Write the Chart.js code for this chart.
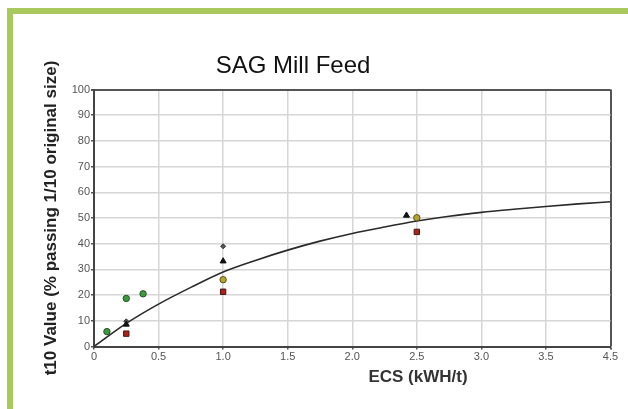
<!DOCTYPE html>
<html lang="en">
<head>
    <meta charset="UTF-8">
    <title>SAG Mill Feed</title>
    <script src="https://cdn.jsdelivr.net/npm/chart.js"></script>
    <style>
        html, body { margin: 0; padding: 0; background: #fff; }
        #card {
            position: relative;
            width: 628px;
            height: 409px;
            overflow: hidden;
            background: #fff;
        }
        .bar-top { position: absolute; left: 7px; top: 8px; width: 621px; height: 6px; background: #a9c95f; }
        .bar-left { position: absolute; left: 7px; top: 8px; width: 6px; height: 401px; background: #a9c95f; }
        #chart-title {
            position: absolute; left: 193px; width: 200px; top: 51px;
            text-align: center;
            font: 24px "Liberation Sans", Arial, sans-serif;
            color: #111;
        }
        #x-title {
            position: absolute; left: 318px; width: 200px; top: 367px;
            text-align: center;
            font: bold 17px "Liberation Sans", Arial, sans-serif;
            color: #333;
        }
        canvas { position: absolute; left: 0; top: 0; }
    </style>

    <script>
        // tick labels as printed on the picture (last one reads 4.5)
        var xTickLabels = ["0", "0.5", "1.0", "1.5", "2.0", "2.5", "3.0", "3.5", "4.5"];

        // measured points
        var greenX = [0.1, 0.25, 0.38];
        var greenY = [5.8, 18.7, 20.5];
        var redX = [0.25, 1.0, 2.5];
        var redY = [5.0, 21.3, 44.6];
        var oliveX = [1.0, 2.5];
        var oliveY = [26.0, 50.1];
        var blackX = [0.25, 1.0, 2.42];
        var blackY = [8.6, 33.2, 51.0];
        var crossX = [0.25, 1.0];
        var crossY = [9.8, 39.0];

        // fitted curve
        var curveX = [0, 0.25, 0.5, 0.75, 1.0, 1.25, 1.5, 1.75, 2.0, 2.25, 2.5, 2.75, 3.0, 3.25, 3.5, 3.75, 4.0];
        var curveY = [0, 9.0, 16.5, 23.0, 29.0, 33.5, 37.5, 41.0, 44.0, 46.5, 48.8, 50.7, 52.2, 53.4, 54.5, 55.5, 56.3];

        function pts(xs, ys) {
            return xs.map(function (x, i) { return { x: x, y: ys[i] }; });
        }
    </script>
</head>
<body>
    <div id="card">
        <div class="bar-top"></div>
        <div class="bar-left"></div>
        <canvas id="sag_chart" width="628" height="409"></canvas>
        <div id="chart-title">SAG Mill Feed</div>
        <div id="x-title">ECS (kWH/t)</div>
    </div>

    <script>
        var ctx = document.getElementById("sag_chart");
        var chart = new Chart(ctx, {
            type: 'scatter',
            data: {
                datasets: [
                    {
                        type: 'line',
                        label: "Fit",
                        data: pts(curveX, curveY),
                        borderColor: "#2a2a2a",
                        borderWidth: 1.6,
                        pointRadius: 0,
                        fill: false,
                        cubicInterpolationMode: 'monotone',
                        order: 2,
                    },
                    {
                        label: "green",
                        data: pts(greenX, greenY),
                        pointStyle: 'circle',
                        pointRadius: 3.2,
                        backgroundColor: "#3f9a3f",
                        borderColor: "#24502a",
                        borderWidth: 1,
                    },
                    {
                        label: "red",
                        data: pts(redX, redY),
                        pointStyle: 'rect',
                        pointRadius: 3.8,
                        backgroundColor: "#a8231d",
                        borderColor: "#4a1410",
                        borderWidth: 1,
                    },
                    {
                        label: "olive",
                        data: pts(oliveX, oliveY),
                        pointStyle: 'circle',
                        pointRadius: 3.2,
                        backgroundColor: "#b5a332",
                        borderColor: "#5a5218",
                        borderWidth: 1,
                    },
                    {
                        label: "black",
                        data: pts(blackX, blackY),
                        pointStyle: 'triangle',
                        pointRadius: 3.5,
                        backgroundColor: "#111",
                        borderColor: "#111",
                        borderWidth: 1,
                    },
                    {
                        label: "cross",
                        data: pts(crossX, crossY),
                        pointStyle: 'rectRot',
                        pointRadius: 2.5,
                        backgroundColor: "#555",
                        borderColor: "#333",
                        borderWidth: 1,
                    },
                ]
            },
            options: {
                responsive: false,
                animation: false,
                layout: { padding: { top: 89.5, right: 17.5, bottom: 0, left: 0 } },
                plugins: {
                    legend: { display: false },
                    tooltip: { enabled: false },
                },
                scales: {
                    x: {
                        type: 'linear',
                        min: 0,
                        max: 4,
                        afterFit: function (s) { s.height = 62.5; },
                        afterBuildTicks: function (s) {
                            s.ticks = xTickLabels.map(function (t, i) { return { value: i * 0.5 }; });
                        },
                        ticks: {
                            callback: function (v, i) { return xTickLabels[i]; },
                            color: "#555",
                            font: { family: "Liberation Sans", size: 11 },
                            padding: 1,
                            maxRotation: 0,
                        },
                        border: { display: true, color: "#444", width: 2 },
                        grid: {
                            color: function (c) { return c.tick && c.tick.value === 4 ? "#555" : "#d6d6d6"; },
                            lineWidth: function (c) { return c.tick && c.tick.value === 4 ? 2 : 1.5; },
                            tickLength: 3,
                            tickColor: "#555",
                        },
                    },
                    y: {
                        min: 0,
                        max: 100,
                        afterFit: function (s) { s.width = 94; },
                        ticks: {
                            stepSize: 10,
                            color: "#555",
                            font: { family: "Liberation Sans", size: 11 },
                            padding: 1,
                        },
                        border: { display: true, color: "#444", width: 2 },
                        grid: {
                            color: function (c) { return c.tick && c.tick.value === 100 ? "#555" : "#d6d6d6"; },
                            lineWidth: function (c) { return c.tick && c.tick.value === 100 ? 2 : 1.5; },
                            tickLength: 3,
                            tickColor: "#555",
                        },
                        title: {
                            display: true,
                            text: "t10 Value (% passing 1/10 original size)",
                            color: "#222",
                            font: { family: "Liberation Sans", size: 17, weight: 'bold' },
                            padding: { top: 41, bottom: 0 },
                        },
                    },
                }
            }
        });
    </script>
</body>
</html>
